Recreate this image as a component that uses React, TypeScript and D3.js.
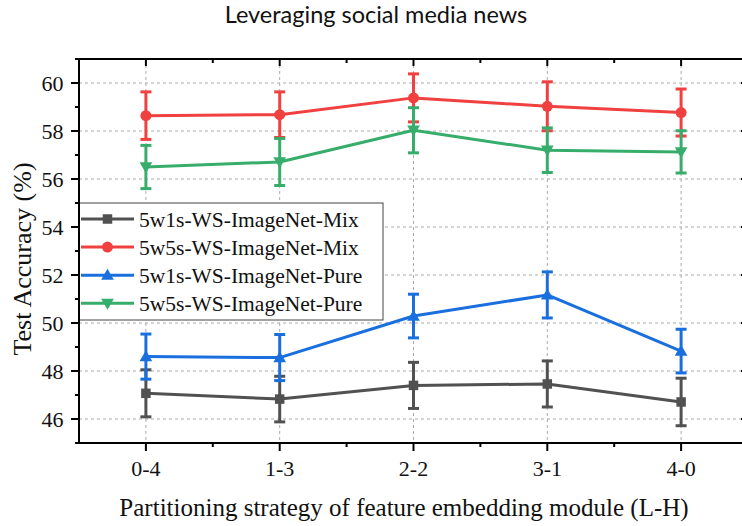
import React from "react";
import * as d3 from "d3";

const categories = ["0-4", "1-3", "2-2", "3-1", "4-0"];
const seriesNames = [
  "5w1s-WS-ImageNet-Mix",
  "5w5s-WS-ImageNet-Mix",
  "5w1s-WS-ImageNet-Pure",
  "5w5s-WS-ImageNet-Pure",
];
const mix1Values = [47.07, 46.83, 47.4, 47.46, 46.71];
const mix1Errors = [0.98, 0.95, 0.96, 0.96, 0.99];
const mix5Values = [58.64, 58.68, 59.38, 59.03, 58.77];
const mix5Errors = [0.99, 0.95, 1.0, 1.02, 0.98];
const pure1Values = [48.6, 48.56, 50.29, 51.17, 48.83];
const pure1Errors = [0.94, 0.96, 0.91, 0.96, 0.91];
const pure5Values = [56.5, 56.71, 58.03, 57.2, 57.13];
const pure5Errors = [0.9, 0.98, 0.94, 0.93, 0.88];
const yTicks = [46, 48, 50, 52, 54, 56, 58, 60];
const yMinorTicks = [45, 47, 49, 51, 53, 55, 57, 59, 61];

const colors = ["#515151", "#F14040", "#1A6FDF", "#37AD6B"];
const markers = ["square", "circle", "triUp", "triDown"];

const W = 742;
const H = 526;
const left = 79;
const right = 748;
const top = 59;
const bottom = 443;
const SERIF = "'Liberation Serif', 'Times New Roman', Times, serif";

function Marker({ type, x, y, color }: { type: string; x: number; y: number; color: string }) {
  if (type === "square") {
    const s = 9.5;
    return <rect x={x - s / 2} y={y - s / 2} width={s} height={s} fill={color} />;
  }
  if (type === "circle") {
    return <circle cx={x} cy={y} r={5.5} fill={color} />;
  }
  const sym = d3.symbol().type(d3.symbolTriangle).size(70)();
  return (
    <path
      d={sym as string}
      transform={`translate(${x},${y + (type === "triUp" ? 1 : -1)}) ${type === "triDown" ? "rotate(180)" : ""}`}
      fill={color}
    />
  );
}

export default function App() {
  const x = d3.scaleLinear().domain([-0.5, 4.5]).range([left, right]);
  const y = d3.scaleLinear().domain([45, 61]).range([bottom, top]);
  const series = [
    { v: mix1Values, e: mix1Errors },
    { v: mix5Values, e: mix5Errors },
    { v: pure1Values, e: pure1Errors },
    { v: pure5Values, e: pure5Errors },
  ];
  const line = d3
    .line<number>()
    .x((_, i) => x(i))
    .y((d) => y(d));
  const halfPositions = d3.range(-0.5, 5, 1).filter((p) => p > -0.5 && p < 4.5);
  const capW = 11;
  const serifStyle = { fontFamily: SERIF };

  return (
    <svg
      width={W}
      height={H}
      style={{ position: "absolute", left: 0, top: 0, background: "#fff" }}
    >
      <rect x={0} y={0} width={W} height={H} fill="#fff" />
      {/* title */}
      <text
        x={376}
        y={23}
        textAnchor="middle"
        style={{ fontFamily: "Lato, 'Open Sans', sans-serif" }}
        fontSize={23.5}
        fill="#111"
      >
        Leveraging social media news
      </text>
      {/* grid */}
      <g stroke="#aaa" strokeWidth={1} strokeDasharray="3,3">
        {yTicks.map((t) => (
          <line key={"gy" + t} x1={left} x2={right} y1={y(t)} y2={y(t)} />
        ))}
        {categories.map((c, i) => (
          <line key={"gx" + c} x1={x(i)} x2={x(i)} y1={top} y2={bottom} />
        ))}
      </g>
      {/* series */}
      {series.map((s, si) => (
        <g key={"s" + si}>
          <path d={line(s.v) as string} fill="none" stroke={colors[si]} strokeWidth={3} strokeLinejoin="round" />
          {s.v.map((v, i) => (
            <g key={i} stroke={colors[si]} strokeWidth={3}>
              <line x1={x(i)} x2={x(i)} y1={y(v + s.e[i])} y2={y(v - s.e[i])} />
              <line x1={x(i) - capW / 2} x2={x(i) + capW / 2} y1={y(v + s.e[i])} y2={y(v + s.e[i])} />
              <line x1={x(i) - capW / 2} x2={x(i) + capW / 2} y1={y(v - s.e[i])} y2={y(v - s.e[i])} />
            </g>
          ))}
          {s.v.map((v, i) => (
            <Marker key={"m" + i} type={markers[si]} x={x(i)} y={y(v)} color={colors[si]} />
          ))}
        </g>
      ))}
      {/* legend */}
      <g>
        <rect x={left} y={203} width={304} height={117} fill="#fff" stroke="#444" strokeWidth={1} />
        {seriesNames.map((n, i) => {
          const cy = 219 + i * 28.1;
          return (
            <g key={n}>
              <line x1={81} x2={134} y1={cy} y2={cy} stroke={colors[i]} strokeWidth={3} />
              <Marker type={markers[i]} x={107.5} y={cy} color={colors[i]} />
              <text x={139} y={cy + 7.5} fontSize={21.5} fill="#111" style={serifStyle}>
                {n}
              </text>
            </g>
          );
        })}
      </g>
      {/* axes */}
      <g stroke="#000" strokeWidth={2}>
        <line x1={left} x2={left} y1={top - 1} y2={bottom + 1} />
        <line x1={right} x2={right} y1={top - 1} y2={bottom + 1} />
        <line x1={left - 1} x2={right + 1} y1={top} y2={top} />
        <line x1={left - 1} x2={right + 1} y1={bottom} y2={bottom} />
        {yTicks.map((t) => (
          <g key={"ty" + t}>
            <line x1={left - 8} x2={left} y1={y(t)} y2={y(t)} />
            <line x1={right - 7} x2={right} y1={y(t)} y2={y(t)} />
          </g>
        ))}
        {yMinorTicks.map((t) => (
          <g key={"tym" + t}>
            <line x1={left - 4} x2={left} y1={y(t)} y2={y(t)} />
            <line x1={right - 4} x2={right} y1={y(t)} y2={y(t)} />
          </g>
        ))}
        {categories.map((c, i) => (
          <g key={"tx" + c}>
            <line x1={x(i)} x2={x(i)} y1={bottom} y2={bottom + 8} />
            <line x1={x(i)} x2={x(i)} y1={top} y2={top + 7} />
          </g>
        ))}
        {halfPositions.map((p) => (
          <g key={"txm" + p}>
            <line x1={x(p)} x2={x(p)} y1={bottom} y2={bottom + 4} />
            <line x1={x(p)} x2={x(p)} y1={top} y2={top + 4} />
          </g>
        ))}
      </g>
      {/* tick labels */}
      {yTicks.map((t) => (
        <text key={"ly" + t} x={63.5} y={y(t) + 7.5} textAnchor="end" fontSize={22} fill="#111" style={serifStyle}>
          {t}
        </text>
      ))}
      {categories.map((c, i) => (
        <text key={"lx" + c} x={x(i)} y={476} textAnchor="middle" fontSize={22} fill="#111" style={serifStyle}>
          {c}
        </text>
      ))}
      <text x={404} y={515.5} textAnchor="middle" fontSize={25} fill="#111" style={serifStyle}>
        Partitioning strategy of feature embedding module (L-H)
      </text>
      <text
        transform={`translate(31,${259}) rotate(-90)`}
        textAnchor="middle"
        fontSize={26}
        fill="#111"
        style={serifStyle}
      >
        Test Accuracy (%)
      </text>
    </svg>
  );
}
